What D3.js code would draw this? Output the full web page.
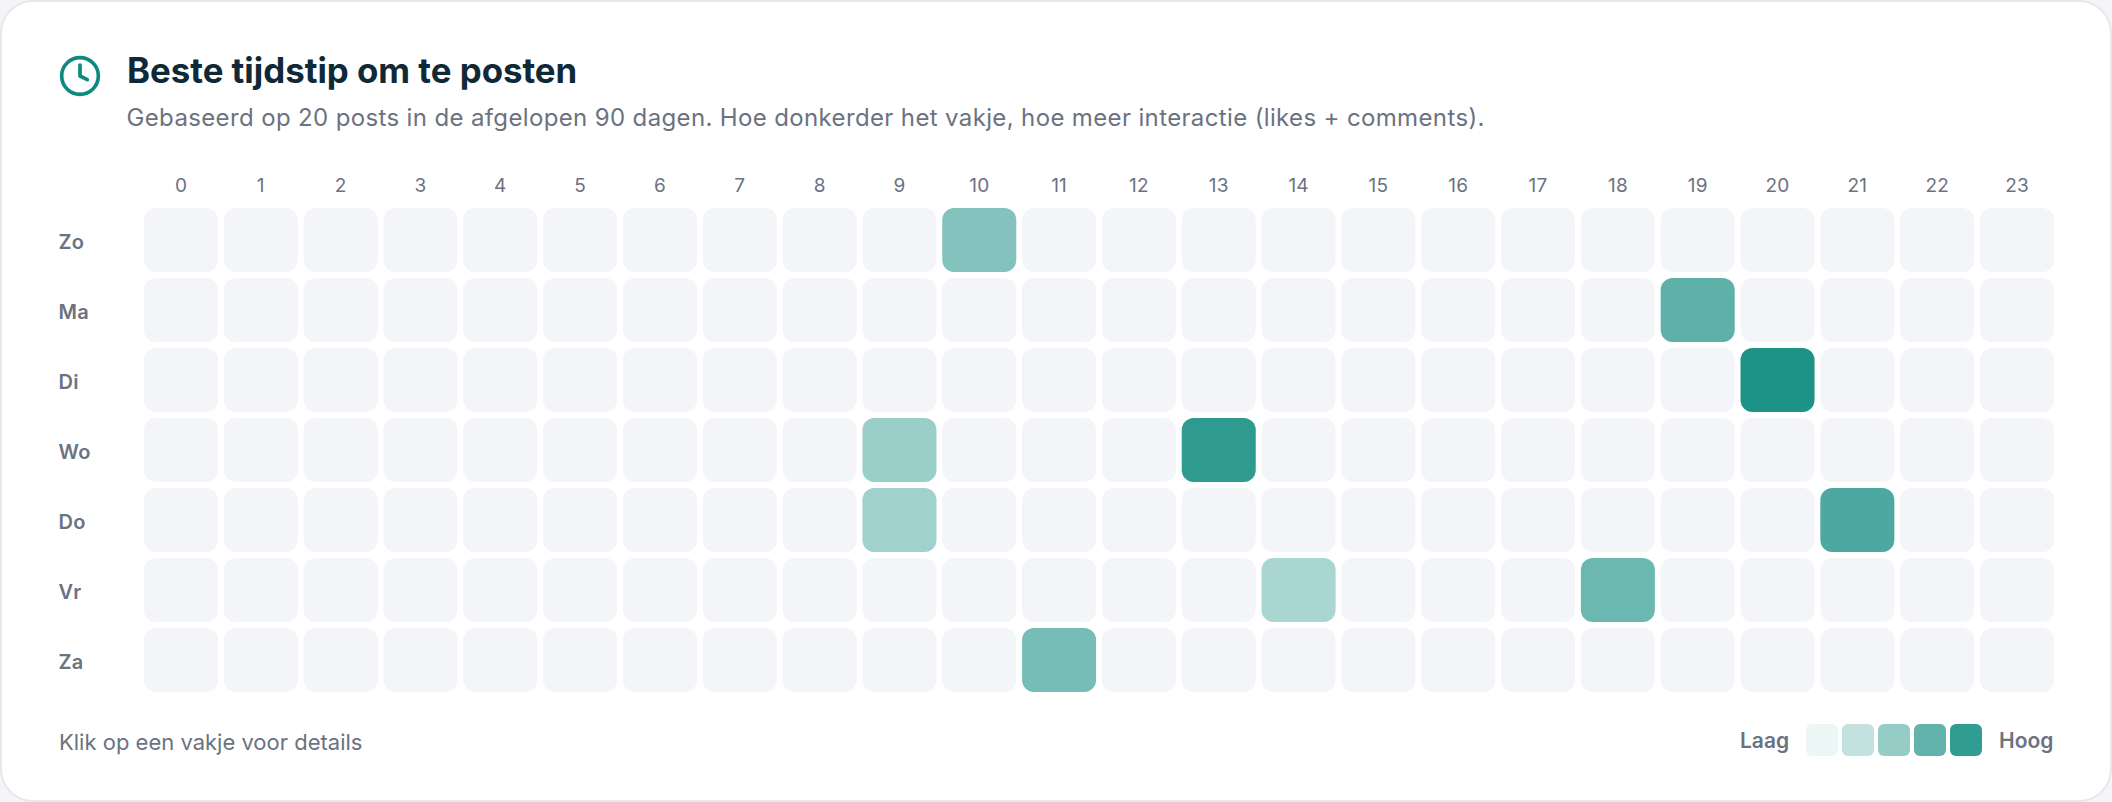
<!DOCTYPE html>
<html lang="nl">
<head>
<meta charset="utf-8">
<title>Beste tijdstip om te posten</title>
<script src="https://cdn.jsdelivr.net/npm/d3@7/dist/d3.min.js"></script>
<style>
  html, body { margin: 0; padding: 0; background: #f4f5f8; overflow: hidden; }
  svg { display: block; font-family: Inter, sans-serif; }
  .axis .domain, .axis line { display: none; }
  .hour-axis text { font-size: 19px; fill: #6b7280; font-family: Inter, sans-serif; font-weight: 400; letter-spacing: 0.2px; }
  .day-axis text { font-size: 20px; fill: #6b7280; font-family: Inter, sans-serif; font-weight: 600; letter-spacing: 0.3px; }
</style>
</head>
<body>
<svg id="chart" width="2112" height="802"></svg>
<script>
// Heatmap contents
const days = ["Zo", "Ma", "Di", "Wo", "Do", "Vr", "Za"];
const hours = d3.range(0, 24);
const activeDays = ["Zo", "Ma", "Di", "Wo", "Wo", "Do", "Do", "Vr", "Vr", "Za"];
const activeHours = [10, 19, 20, 9, 13, 9, 21, 14, 18, 11];
const activeScores = [0.51, 0.67, 0.934, 0.42, 0.86, 0.39, 0.74, 0.35, 0.61, 0.56];
const legendSteps = [0.08, 0.25, 0.44, 0.65, 0.85];

const titleText = "Beste tijdstip om te posten";
const subtitleText = "Gebaseerd op 20 posts in de afgelopen 90 dagen. Hoe donkerder het vakje, hoe meer interactie (likes + comments).";
const hintText = "Klik op een vakje voor details";
const lowText = "Laag";
const highText = "Hoog";

const teal = "#0d8a7e";
const svg = d3.select("#chart");

// Card
svg.append("rect")
  .attr("x", 1).attr("y", 1)
  .attr("width", 2110).attr("height", 800)
  .attr("rx", 32)
  .attr("fill", "#ffffff")
  .attr("stroke", "#e6e8ec").attr("stroke-width", 2);

// Clock icon
const icon = svg.append("g")
  .attr("transform", "translate(58,54) scale(1.833)")
  .attr("fill", "none")
  .attr("stroke", teal)
  .attr("stroke-width", 2)
  .attr("stroke-linecap", "round")
  .attr("stroke-linejoin", "round");
icon.append("circle").attr("cx", 12).attr("cy", 12).attr("r", 10);
icon.append("path").attr("d", "M12 6v6l4 2");

// Heading
svg.append("text").attr("x", 127).attr("y", 83)
  .attr("font-size", 34.8).attr("font-weight", 700).attr("fill", "#0f2a36")
  .text(titleText);
svg.append("text").attr("x", 126.5).attr("y", 126)
  .attr("font-size", 24).attr("font-weight", 400).attr("fill", "#6b7280")
  .attr("letter-spacing", "0.36")
  .text(subtitleText);

// Scales
const gapX = 5.83;
const gapY = 6;
const x = d3.scaleBand().domain(hours).range([144, 2054 + gapX]);
const y = d3.scaleBand().domain(days).range([208, 692 + gapY]);
const cellW = x.step() - gapX;
const cellH = y.step() - gapY;
const tint = d3.scaleLinear().domain([0, 1]).range(["#ffffff", teal]);

// Axes
svg.append("g").attr("class", "axis hour-axis")
  .attr("transform", "translate(-2.9,192)")
  .call(d3.axisTop(x).tickSize(0).tickPadding(0));
svg.append("g").attr("class", "axis day-axis")
  .attr("transform", "translate(58.5,0)")
  .call(d3.axisLeft(y).tickSize(0).tickPadding(0))
  .selectAll("text").attr("text-anchor", "start");

// Empty grid
const grid = days.flatMap(d => hours.map(h => ({ d, h })));
svg.append("g").selectAll("rect").data(grid).join("rect")
  .attr("x", c => x(c.h)).attr("y", c => y(c.d))
  .attr("width", cellW).attr("height", cellH)
  .attr("rx", 12).attr("fill", "#f4f5f8");

// Hours with engagement
const active = activeDays.map((d, i) => ({ d, h: activeHours[i], v: activeScores[i] }));
svg.append("g").selectAll("rect").data(active).join("rect")
  .attr("x", c => x(c.h)).attr("y", c => y(c.d))
  .attr("width", cellW).attr("height", cellH)
  .attr("rx", 12).attr("fill", c => tint(c.v));

// Footer
svg.append("text").attr("x", 59).attr("y", 750)
  .attr("font-size", 22).attr("fill", "#6b7280").text(hintText);

const legendX = d3.scaleBand().domain(legendSteps).range([1806, 1986]);
svg.append("g").selectAll("rect").data(legendSteps).join("rect")
  .attr("x", v => legendX(v)).attr("y", 724)
  .attr("width", 32).attr("height", 32).attr("rx", 6)
  .attr("fill", v => tint(v));
svg.append("text").attr("x", 1740).attr("y", 748)
  .attr("font-size", 21).attr("font-weight", 600).attr("fill", "#6b7280").text(lowText);
svg.append("text").attr("x", 1999).attr("y", 748)
  .attr("font-size", 21).attr("font-weight", 600).attr("fill", "#6b7280").text(highText);
</script>
</body>
</html>
